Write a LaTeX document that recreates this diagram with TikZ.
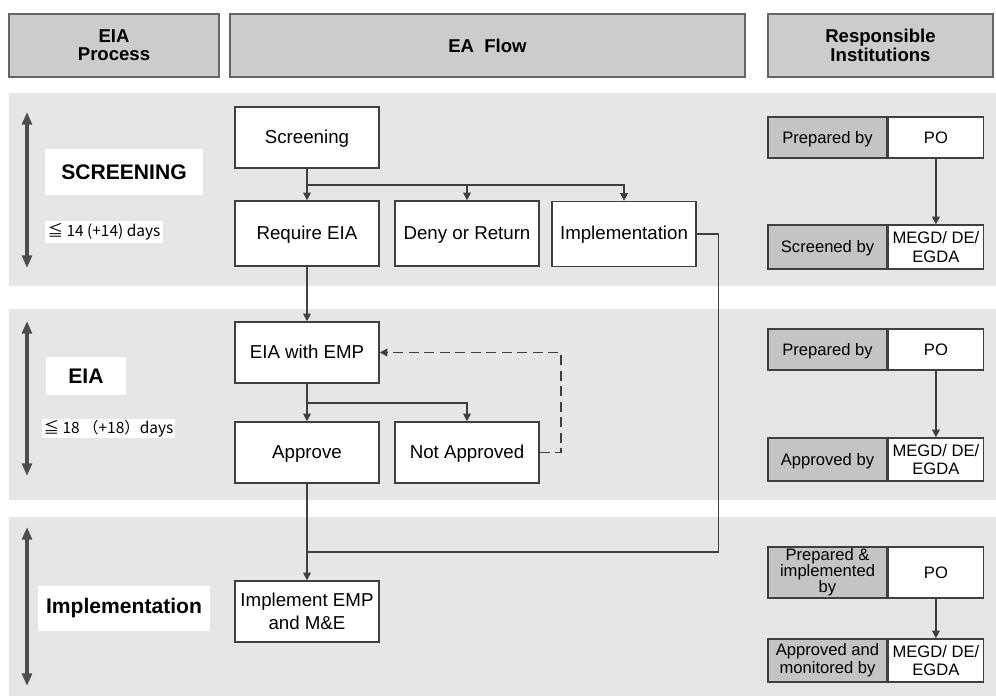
\documentclass[tikz,border=0pt]{standalone}
\usepackage{fontspec}
\setmainfont{Liberation Sans}
\newfontfamily\jpfont{Noto Sans CJK JP}
\usetikzlibrary{arrows.meta,positioning}
\definecolor{bandgray}{HTML}{E6E6E6}
\definecolor{headgray}{HTML}{CCCCCC}
\definecolor{cellgray}{HTML}{C4C4C4}
\definecolor{edge}{HTML}{3F3F3F}
\definecolor{spangray}{HTML}{4D4D4D}
\newcommand\fs[2]{\fontsize{#1}{#2}\selectfont}
\tikzset{>={Triangle[length=5.5pt,width=5.5pt]},
  bandbg/.style={fill=bandgray},
  hdr/.style={draw=edge!80,fill=headgray,line width=1pt,align=center,font=\fs{13.2}{13}\bfseries},
  flowbox/.style={draw=edge,fill=white,line width=1pt,minimum width=3.6cm,text height=.8em,text depth=0pt,font=\fs{13.3}{16}},
  biglabel/.style={fill=white,font=\fs{15}{18}\bfseries},
  days/.style={fill=white,inner sep=1pt,font=\jpfont\fs{11}{12}},
  cellg/.style={draw=edge,fill=cellgray,line width=1pt,minimum width=2.975cm,inner sep=0pt,text height=.8em,text depth=0pt,font=\fs{11.8}{13}},
  cellw/.style={cellg,fill=white,minimum width=2.375cm},
  twoline/.style={align=center,text height=,text depth=},
  wire/.style={draw=edge,line width=1.1pt},
  link/.style={wire,->},
  dlink/.style={link,line width=1.3pt,dash pattern=on 7pt off 4pt},
  spanarrow/.style={{Triangle[length=9pt,width=7pt]}-{Triangle[length=9pt,width=7pt]},draw=spangray,line width=2.2pt}}

\begin{document}
\begin{tikzpicture}[x=0.025cm,y=-0.025cm]
\useasboundingbox (0,0) rectangle (996,696);
\fill[bandbg] (9,93) rectangle (996,286);
\fill[bandbg] (9,309) rectangle (996,500);
\fill[bandbg] (9,517) rectangle (996,696);
% column heads
\node[hdr,minimum width=5.25cm,minimum height=1.575cm] (hproc) at (114,45.5) {EIA\\Process};
\node[hdr,minimum width=12.875cm,minimum height=1.575cm] (hflow) at (487.5,45.5) {EA\ \ Flow};
\node[hdr,minimum width=5.625cm,minimum height=1.575cm] (hresp) at (880.5,45.5) {Responsible\\Institutions};
% process column
\draw[spanarrow] (27,112) -- (27,268);
\draw[spanarrow] (27,321) -- (27,476);
\draw[spanarrow] (27,527) -- (27,686);
\node[biglabel,minimum width=3.95cm,minimum height=1.15cm] (lscr) at (124,172) {SCREENING};
\node[days,minimum width=2.95cm,minimum height=0.55cm] (dscr) at (104,232) {≦ 14 (+14) days};
\node[biglabel,minimum width=2cm,minimum height=0.95cm] (leia) at (86,376) {EIA};
\node[days,minimum width=3.125cm,minimum height=0.425cm] (deia) at (108.5,428.5) {≦ 18 （+18）days};
\node[biglabel,minimum width=4.3cm,minimum height=1.125cm] (limp) at (124,608.5) {Implementation};
% flow
\node[flowbox,minimum height=1.525cm] (scr) at (307,137.5) {Screening};
\node[flowbox,minimum height=1.625cm] (req) at (307,233.5) {Require EIA};
\node[flowbox,minimum height=1.625cm] (deny) at (467,233.5) {Deny or Return};
\node[flowbox,minimum height=1.625cm] (impl) at (624,234) {Implementation};
\node[flowbox,minimum height=1.525cm] (emp) at (307,352.5) {EIA with EMP};
\node[flowbox,minimum height=1.525cm] (appr) at (307,452.5) {Approve};
\node[flowbox,minimum height=1.525cm] (napp) at (467,452.5) {Not Approved};
\node[flowbox,twoline,minimum height=1.525cm] (iemp) at (307,611.5) {Implement EMP\\and M\&E};
\coordinate (s1) at (307,185);
\coordinate (s2) at (307,403);
\coordinate (j1) at (307,552);
\draw[link] (scr) -- (req);
\draw[link] (s1) -| (deny.north);
\draw[link] (s1) -| (impl.north);
\draw[link] (req) -- (emp);
\draw[link] (emp) -- (appr);
\draw[link] (s2) -| (napp.north);
\draw[dlink] (napp.east) -- ++(21,0) |- (emp.east);
\draw[link] (appr) -- (iemp);
\draw[wire] (impl.east) -- ++(22,0) |- (j1);
% institutions
\node[cellg,minimum height=1.025cm] (prep1) at (827.5,137.5) {Prepared by};
\node[cellw,minimum height=1.025cm,right=0pt of prep1] (po1) {PO};
\node[cellg,minimum height=1.1cm] (scrby) at (827.5,247) {Screened by};
\node[cellw,twoline,minimum height=1.1cm,right=0pt of scrby] (org1) {MEGD/ DE/\\EGDA};
\node[cellg,minimum height=1.025cm] (prep2) at (827.5,349.5) {Prepared by};
\node[cellw,minimum height=1.025cm,right=0pt of prep2] (po2) {PO};
\node[cellg,minimum height=1.075cm] (apby) at (827.5,459.5) {Approved by};
\node[cellw,twoline,minimum height=1.075cm,right=0pt of apby] (org2) {MEGD/ DE/\\EGDA};
\node[cellg,twoline,minimum height=1.275cm,font=\fs{11.8}{11.4}] (prep3) at (827.5,572.5) {Prepared \&\\implemented\\by};
\node[cellw,minimum height=1.275cm,right=0pt of prep3] (po3) {PO};
\node[cellg,twoline,minimum height=1.075cm] (monby) at (827.5,660.5) {Approved and\\monitored by};
\node[cellw,twoline,minimum height=1.075cm,right=0pt of monby] (org3) {MEGD/ DE/\\EGDA};
\draw[link] (po1) -- (org1);
\draw[link] (po2) -- (org2);
\draw[link] (po3) -- (org3);
\end{tikzpicture}
\end{document}
